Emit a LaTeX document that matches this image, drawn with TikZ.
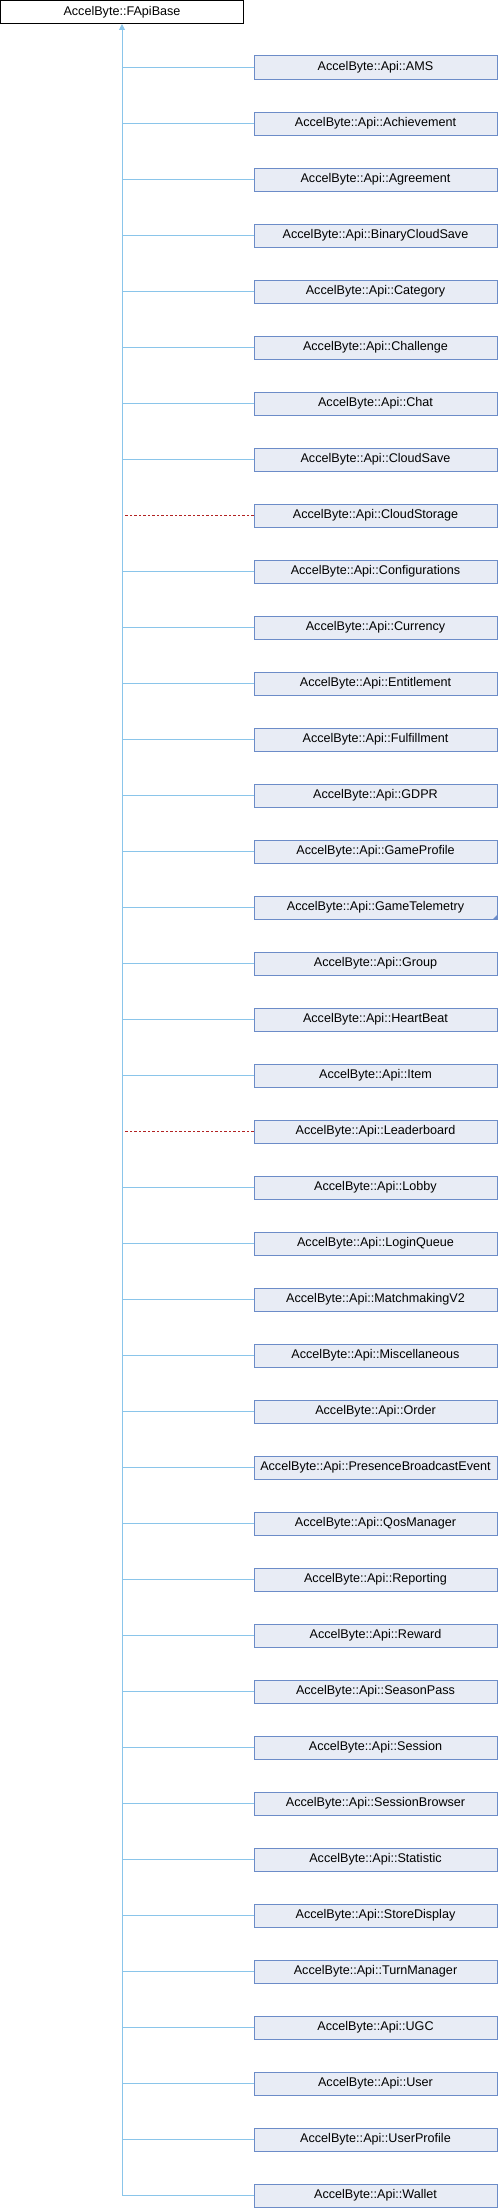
\documentclass[tikz,border=0pt]{standalone}
\usepackage{fontspec}
\setmainfont{Liberation Sans}
\usetikzlibrary{arrows.meta}

\definecolor{edgeblue}{RGB}{138,197,234}
\definecolor{privred}{RGB}{178,34,34}
\definecolor{boxfill}{RGB}{232,236,245}
\definecolor{boxline}{RGB}{108,140,200}

\tikzset{
  classbox/.style={draw=black, fill=white, line width=1pt, minimum width=243pt,
    minimum height=23pt, inner sep=0pt, font=\fontsize{12.6}{14}\selectfont},
  childbox/.style={classbox, draw=boxline, fill=boxfill},
  pub/.style={draw=edgeblue, line width=1pt},
  priv/.style={draw=privred, line width=1pt, dash pattern=on 2.5pt off 2pt},
}

\begin{document}
\begin{tikzpicture}[x=1pt,y=1pt]
  \useasboundingbox (0,0) rectangle (498,-2208);
  \node[classbox] (base) at (122,-12) {AccelByte::FApiBase};
  % derived classes, one row every 56pt
  \foreach \cls/\kind [count=\i from 0] in {AMS/pub, Achievement/pub,
      Agreement/pub, BinaryCloudSave/pub, Category/pub, Challenge/pub,
      Chat/pub, CloudSave/pub, CloudStorage/priv, Configurations/pub,
      Currency/pub, Entitlement/pub, Fulfillment/pub, GDPR/pub,
      GameProfile/pub, GameTelemetry/pub, Group/pub, HeartBeat/pub,
      Item/pub, Leaderboard/priv, Lobby/pub, LoginQueue/pub,
      MatchmakingV2/pub, Miscellaneous/pub, Order/pub,
      PresenceBroadcastEvent/pub, QosManager/pub, Reporting/pub,
      Reward/pub, SeasonPass/pub, Session/pub, SessionBrowser/pub,
      Statistic/pub, StoreDisplay/pub, TurnManager/pub, UGC/pub,
      User/pub, UserProfile/pub, Wallet/pub}{
    \node[childbox] (c\i) at (375.5,-67.5-56*\i) {AccelByte::Api::\cls};
    \draw[\kind] (c\i.west) -- (c\i.west -| base.south);
  }
  % trunk up to the base class
  \draw[pub, -{Triangle[width=6pt,length=6pt]}] (c38.west -| base.south) -- (base.south);
  % folded marker on GameTelemetry
  \fill[boxline] (c15.south east) -- ++(-5,0) -- ++(5,5) -- cycle;
\end{tikzpicture}
\end{document}
